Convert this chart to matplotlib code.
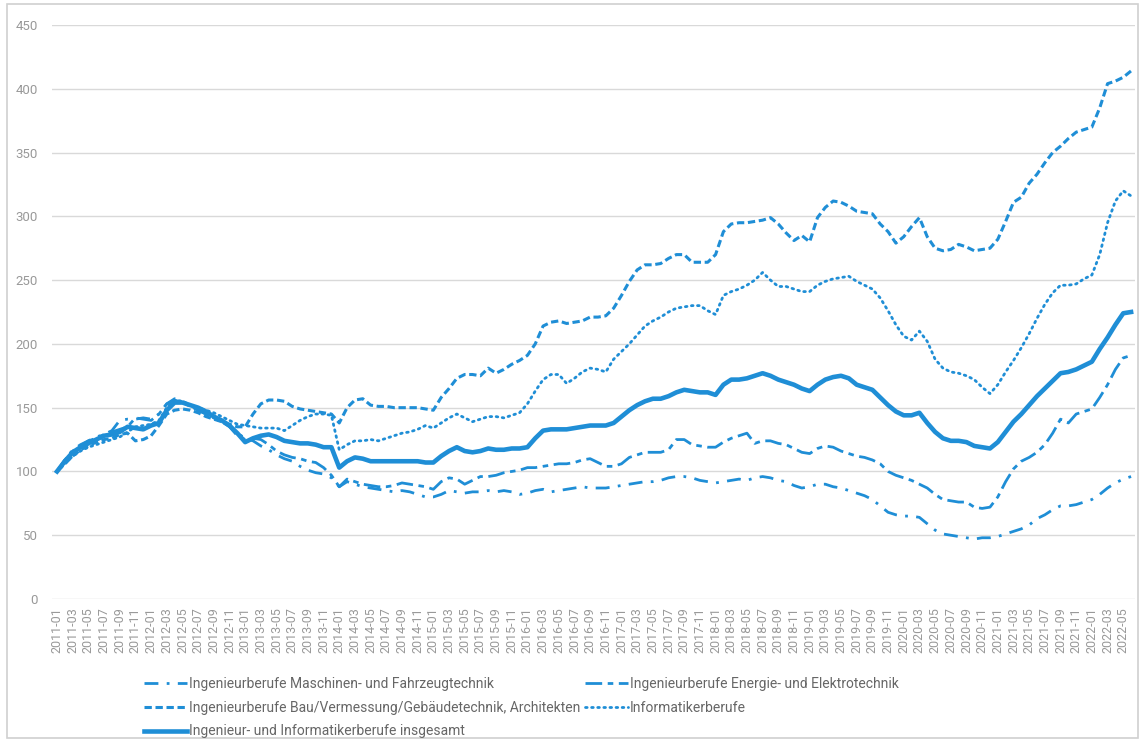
import matplotlib
matplotlib.use('Agg')
import matplotlib.pyplot as plt
from matplotlib.patches import Rectangle

# monthly categories 2011-01 .. 2022-06
months = [f'{y}-{m:02d}' for y in range(2011, 2023) for m in range(1, 13)][:138]

# index values (2011-01 = 100)
maschinen = [100, 109, 117, 121, 124, 127, 129, 132, 140, 141, 141, 142,
             141, 145, 153, 157, 155, 152, 148, 145, 142, 140, 136, 130,
             126, 124, 120, 117, 113, 110, 108, 104, 101, 99, 98, 95,
             88, 92, 90, 88, 87, 86, 85, 84, 85, 84, 82, 80,
             80, 82, 85, 84, 83, 84, 84, 85, 84, 85, 84, 82,
             83, 85, 86, 84, 85, 86, 87, 88, 87, 87, 87, 88,
             89, 90, 91, 92, 92, 93, 95, 96, 96, 95, 93, 92,
             91, 92, 93, 94, 93, 95, 96, 95, 93, 92, 89, 87,
             88, 90, 90, 88, 87, 85, 83, 81, 78, 73, 68, 66,
             65, 65, 64, 59, 54, 51, 50, 49, 48, 47, 48, 48,
             49, 51, 53, 55, 58, 63, 66, 70, 73, 73, 74, 76,
             78, 82, 87, 91, 94, 96]

energie = [100, 109, 116, 120, 124, 126, 129, 131, 133, 135, 142, 141,
           140, 145, 153, 156, 154, 151, 148, 145, 142, 139, 135, 128,
           125, 126, 125, 121, 116, 113, 111, 110, 108, 107, 103, 97,
           88, 94, 92, 90, 89, 88, 88, 89, 91, 90, 89, 88,
           86, 92, 95, 94, 90, 93, 96, 96, 97, 99, 100, 101,
           103, 103, 104, 105, 106, 106, 107, 109, 110, 107, 104, 104,
           106, 111, 113, 115, 115, 115, 117, 125, 125, 121, 120, 119,
           119, 123, 126, 128, 130, 122, 124, 124, 122, 121, 118, 115,
           114, 118, 120, 119, 116, 114, 112, 111, 109, 106, 100, 97,
           95, 93, 90, 87, 82, 78, 77, 76, 76, 72, 71, 72,
           80, 92, 102, 108, 111, 115, 121, 130, 141, 138, 145, 147,
           149, 158, 168, 180, 189, 191]

bau = [100, 106, 112, 117, 120, 123, 125, 126, 129, 130, 124, 125,
       128, 136, 145, 148, 149, 148, 146, 143, 141, 139, 137, 135,
       135, 145, 153, 156, 156, 155, 151, 149, 148, 147, 146, 145,
       138, 150, 156, 157, 152, 151, 151, 150, 150, 150, 150, 149,
       148, 158, 165, 173, 176, 176, 175, 181, 177, 180, 184, 187,
       191, 200, 214, 217, 218, 216, 217, 218, 221, 221, 222, 228,
       238, 249, 258, 262, 262, 263, 267, 270, 270, 264, 264, 264,
       270, 288, 294, 295, 295, 296, 297, 299, 294, 287, 281, 285,
       280, 299, 307, 312, 311, 308, 304, 303, 302, 294, 288, 279,
       284, 292, 299, 284, 275, 273, 274, 278, 276, 273, 274, 275,
       282, 296, 311, 315, 326, 333, 342, 350, 355, 361, 366, 368,
       370, 385, 404, 406, 409, 414]

informatik = [100, 106, 112, 116, 119, 121, 123, 125, 127, 131, 135, 136,
              137, 140, 150, 156, 155, 152, 150, 148, 146, 143, 140, 137,
              136, 135, 134, 134, 134, 132, 136, 140, 143, 145, 145, 144,
              117, 121, 124, 124, 125, 124, 126, 128, 130, 131, 133, 136,
              134, 138, 142, 145, 142, 139, 141, 143, 143, 142, 144, 146,
              153, 163, 172, 176, 176, 169, 173, 178, 181, 180, 178, 188,
              194, 200, 207, 214, 218, 221, 225, 228, 229, 230, 230, 226,
              223, 238, 241, 243, 246, 250, 256, 250, 245, 245, 243, 241,
              241, 246, 249, 251, 252, 253, 249, 246, 243, 236, 226, 215,
              206, 203, 210, 202, 188, 181, 178, 177, 175, 172, 166, 161,
              168, 178, 187, 197, 208, 220, 231, 240, 246, 246, 247, 251,
              254, 270, 295, 312, 320, 316]

insgesamt = [100, 108, 115, 119, 122, 125, 128, 129, 131, 135, 134, 133,
             136, 138, 148, 154, 154, 152, 150, 147, 143, 140, 136, 130,
             123, 126, 128, 129, 127, 124, 123, 122, 122, 121, 119, 119,
             103, 108, 111, 110, 108, 108, 108, 108, 108, 108, 108, 107,
             107, 112, 116, 119, 116, 115, 116, 118, 117, 117, 118, 118,
             119, 126, 132, 133, 133, 133, 134, 135, 136, 136, 136, 138,
             143, 148, 152, 155, 157, 157, 159, 162, 164, 163, 162, 162,
             160, 168, 172, 172, 173, 175, 177, 175, 172, 170, 168, 165,
             163, 168, 172, 174, 175, 173, 168, 166, 164, 158, 152, 147,
             144, 144, 146, 138, 131, 126, 124, 124, 123, 120, 119, 118,
             123, 131, 139, 145, 152, 159, 165, 171, 177, 178, 180, 183,
             186, 196, 205, 215, 224, 225]

labels = ['Ingenieurberufe Maschinen- und Fahrzeugtechnik',
          'Ingenieurberufe Energie- und Elektrotechnik',
          'Ingenieurberufe Bau/Vermessung/Gebäudetechnik, Architekten',
          'Informatikerberufe',
          'Ingenieur- und Informatikerberufe insgesamt']

blue = '#1f8ed6'
plt.rcParams['font.family'] = ['Roboto', 'DejaVu Sans']

fig = plt.figure(figsize=(11.42, 7.42), dpi=100)
ax = fig.add_axes([52 / 1142, 1 - 599 / 742, (1135 - 52) / 1142, (599 - 25) / 742])

x = list(range(len(months)))
l1, = ax.plot(x, maschinen, color=blue, lw=2, dashes=(5, 3, 1, 3), label=labels[0])
l2, = ax.plot(x, energie, color=blue, lw=2, dashes=(6, 2, 2, 2), label=labels[1])
l3, = ax.plot(x, bau, color=blue, lw=2.2, dashes=(2.4, 1.2), label=labels[2])
l4, = ax.plot(x, informatik, color=blue, lw=2, dashes=(0.6, 1.6), dash_capstyle='round', label=labels[3])
l5, = ax.plot(x, insgesamt, color=blue, lw=3.3, label=labels[4])

ax.set_xlim(-0.64, 137.5)
ax.set_ylim(0, 450)
ax.set_yticks(range(0, 451, 50))
ax.set_xticks(x[::2])
ax.set_xticklabels(months[::2], rotation=90)
ax.grid(axis='y', color='#d9d9d9', lw=1)
ax.set_axisbelow(True)
for s in ax.spines.values():
    s.set_visible(False)
ax.tick_params(length=0, colors='#999999', labelsize=9)
ax.tick_params(axis='x', pad=6)
ax.tick_params(axis='y', pad=10, labelsize=9.5)

fig.legend(handles=[l1, l3, l5, l2, l4], loc='upper left',
           bbox_to_anchor=(137 / 1142, 1 - 670 / 742), ncol=2, frameon=False,
           fontsize=10, handlelength=3.1, handletextpad=0.15, labelspacing=0.7,
           columnspacing=0.3, borderpad=0, labelcolor='#666666')

fig.patches.append(Rectangle((7 / 1142, 4 / 742), 1131 / 1142, 734 / 742,
                             transform=fig.transFigure, fill=False,
                             edgecolor='#d0d0d0', lw=1.2))

fig.savefig('out.png', dpi=100)
